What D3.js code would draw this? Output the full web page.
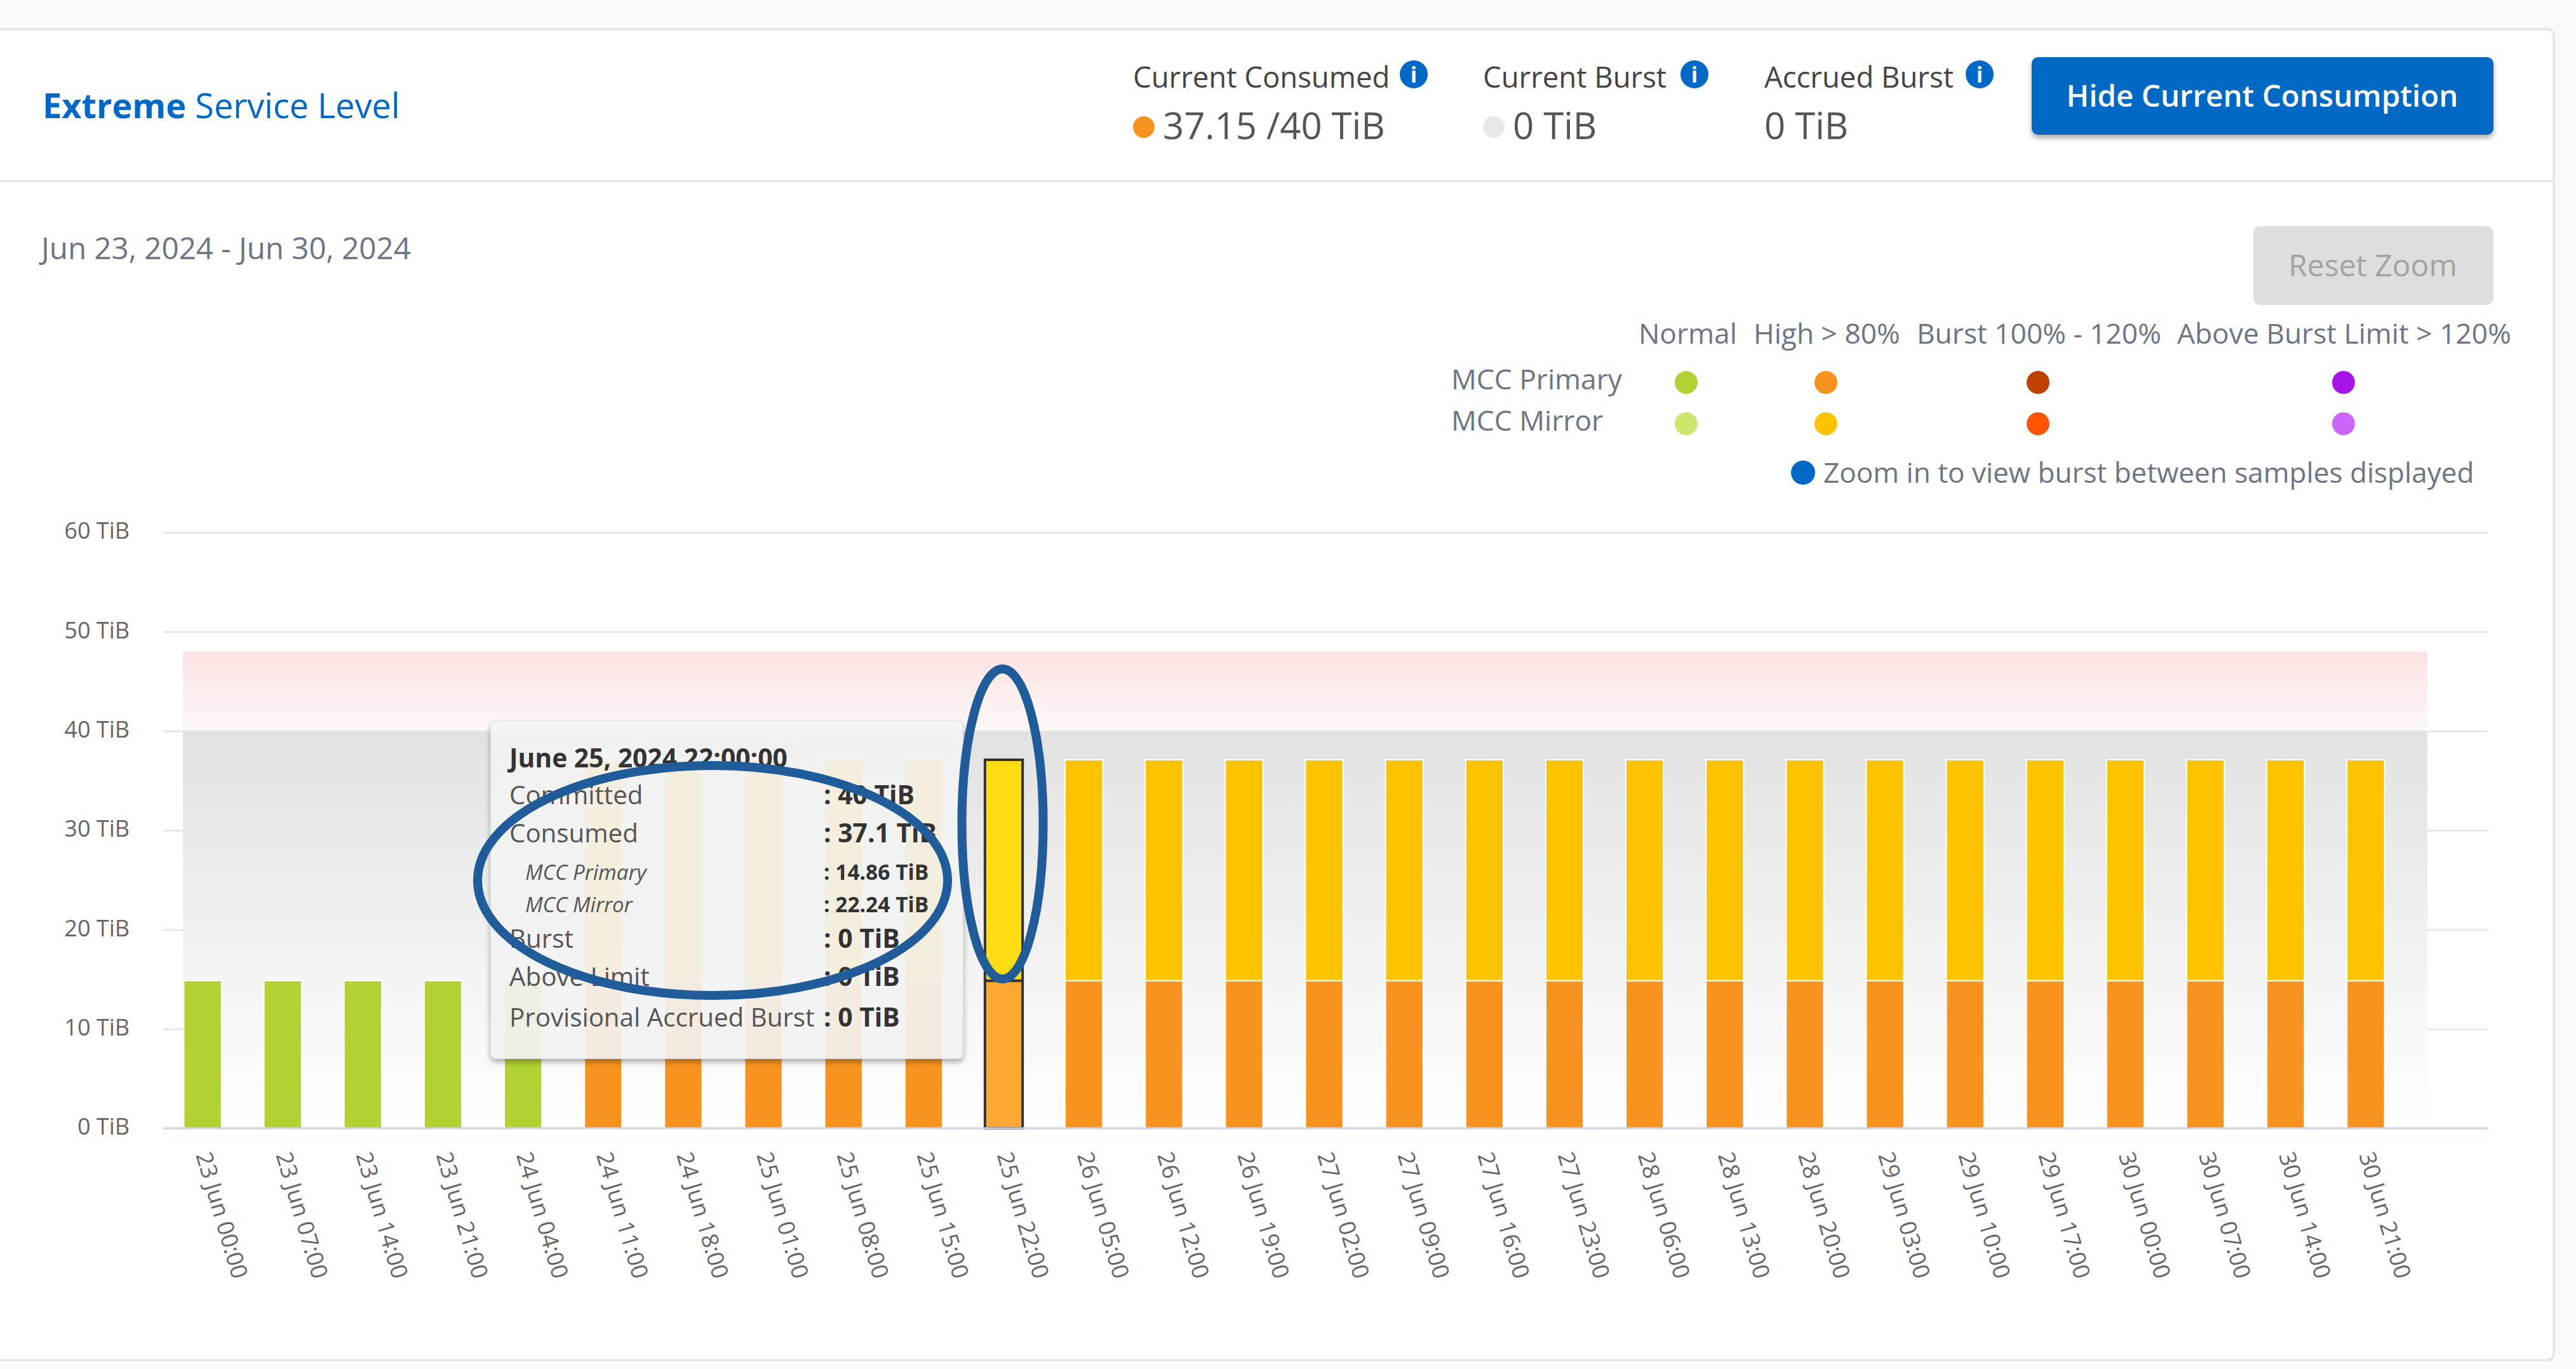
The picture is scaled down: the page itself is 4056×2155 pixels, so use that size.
<!DOCTYPE html>
<html lang="en">
<head>
<meta charset="utf-8">
<title>Extreme Service Level</title>
<script src="https://cdn.jsdelivr.net/npm/d3@7"></script>
<style>
	body { margin: 0; background: #fafafa; }
	svg { display: block; }
	text { font-family: "Open Sans", sans-serif; }
</style>
</head>
<body>
<script>
	var w = 4056;
	var h = 2155;

	// chart data
	var categories = ["23 Jun 00:00", "23 Jun 07:00", "23 Jun 14:00", "23 Jun 21:00", "24 Jun 04:00", "24 Jun 11:00", "24 Jun 18:00",
		"25 Jun 01:00", "25 Jun 08:00", "25 Jun 15:00", "25 Jun 22:00", "26 Jun 05:00", "26 Jun 12:00", "26 Jun 19:00",
		"27 Jun 02:00", "27 Jun 09:00", "27 Jun 16:00", "27 Jun 23:00", "28 Jun 06:00", "28 Jun 13:00", "28 Jun 20:00",
		"29 Jun 03:00", "29 Jun 10:00", "29 Jun 17:00", "30 Jun 00:00", "30 Jun 07:00", "30 Jun 14:00", "30 Jun 21:00"];
	var primaryValues = [14.86, 14.86, 14.86, 14.86, 14.86, 14.86, 14.86, 14.86, 14.86, 14.86, 14.86, 14.86, 14.86, 14.86,
		14.86, 14.86, 14.86, 14.86, 14.86, 14.86, 14.86, 14.86, 14.86, 14.86, 14.86, 14.86, 14.86, 14.86];
	var mirrorValues = [0, 0, 0, 0, 0, 22.24, 22.24, 22.24, 22.24, 22.24, 22.24, 22.24, 22.24, 22.24,
		22.24, 22.24, 22.24, 22.24, 22.24, 22.24, 22.24, 22.24, 22.24, 22.24, 22.24, 22.24, 22.24, 22.24];
	var yTicks = [0, 10, 20, 30, 40, 50, 60];
	var committed = 40;
	var burstLimit = 48;
	var selected = "25 Jun 22:00";

	// legend
	var legendColumns = ["Normal", "High > 80%", "Burst 100% - 120%", "Above Burst Limit > 120%"];
	var legendRows = ["MCC Primary", "MCC Mirror"];
	var primaryColors = ["#b1d232", "#f7931e", "#bf4000", "#a814e8"];
	var mirrorColors = ["#cde66e", "#fec300", "#ff5500", "#cc66ff"];

	// tooltip
	var tooltipLabels = ["Committed", "Consumed", "MCC Primary", "MCC Mirror", "Burst", "Above Limit", "Provisional Accrued Burst"];
	var tooltipValues = ["40 TiB", "37.1 TiB", "14.86 TiB", "22.24 TiB", "0 TiB", "0 TiB", "0 TiB"];
	var tooltipY = [1266, 1326, 1385, 1436, 1492, 1552, 1616];

	var svg = d3.select("body").append("svg")
		.attr("width", w)
		.attr("height", h);

	var defs = svg.append("defs");

	function gradient(id, top, bottom) {
		var g = defs.append("linearGradient").attr("id", id)
			.attr("x1", 0).attr("y1", 0).attr("x2", 0).attr("y2", 1);
		g.append("stop").attr("offset", "0%").attr("stop-color", top);
		g.append("stop").attr("offset", "100%").attr("stop-color", bottom);
	}
	gradient("grayBand", "#e2e2e2", "#ffffff");
	gradient("pinkBand", "#fde2e2", "#fbf8f8");

	var shadow = defs.append("filter").attr("id", "shadow")
		.attr("x", "-5%").attr("y", "-5%").attr("width", "110%").attr("height", "115%");
	shadow.append("feDropShadow").attr("dx", 0).attr("dy", 5).attr("stdDeviation", 4)
		.attr("flood-color", "#000").attr("flood-opacity", 0.35);

	// card
	svg.append("rect")
		.attr("x", -10).attr("y", 46).attr("width", 4031).attr("height", 2095).attr("rx", 10)
		.attr("fill", "#fff").attr("stroke", "#e2e2e2").attr("stroke-width", 3);
	svg.append("line")
		.attr("x1", 0).attr("x2", 4020).attr("y1", 285).attr("y2", 285)
		.attr("stroke", "#e2e2e2").attr("stroke-width", 3);

	// header
	var title = svg.append("text").attr("x", 67).attr("y", 186)
		.attr("font-size", 54).attr("fill", "#0068c6");
	title.append("tspan").attr("font-weight", 700).text("Extreme");
	title.append("tspan").text(" Service Level");

	function stat(x, label, value, dot, iconX) {
		svg.append("text").attr("x", x).attr("y", 138)
			.attr("font-size", 45.5).attr("fill", "#444").text(label);
		svg.append("text").attr("x", dot ? x + 47 : x).attr("y", 219)
			.attr("font-size", 58).attr("fill", "#555").text(value);
		if (dot) {
			svg.append("circle").attr("cx", x + 17).attr("cy", 200).attr("r", 17).attr("fill", dot);
		}
		svg.append("circle").attr("cx", iconX).attr("cy", 117).attr("r", 22).attr("fill", "#0068c6");
		svg.append("text").attr("x", iconX).attr("y", 130).attr("text-anchor", "middle")
			.attr("font-size", 34).attr("font-weight", 700).attr("fill", "#fff").text("i");
	}
	stat(1784, "Current Consumed", "37.15 /40 TiB", "#f7931e", 2226);
	stat(2335, "Current Burst", "0 TiB", "#e8e8e8", 2668);
	stat(2778, "Accrued Burst", "0 TiB", null, 3117);

	svg.append("rect")
		.attr("x", 3199).attr("y", 90).attr("width", 727).attr("height", 122).attr("rx", 10)
		.attr("fill", "#0069c4").attr("filter", "url(#shadow)");
	svg.append("text").attr("x", 3562).attr("y", 168).attr("text-anchor", "middle")
		.attr("font-size", 47.5).attr("font-weight", 600).attr("fill", "#fff").text("Hide Current Consumption");

	svg.append("text").attr("x", 65).attr("y", 408)
		.attr("font-size", 47.5).attr("fill", "#6b7585").text("Jun 23, 2024 - Jun 30, 2024");

	svg.append("rect")
		.attr("x", 3548).attr("y", 356).attr("width", 378).attr("height", 124).attr("rx", 10)
		.attr("fill", "#dedede");
	svg.append("text").attr("x", 3736).attr("y", 435).attr("text-anchor", "middle")
		.attr("font-size", 48).attr("fill", "#a3a3a3").text("Reset Zoom");

	// legend table
	var legendHeadX = [2580, 2761, 3018, 3428];
	var legendDotX = [2655, 2875, 3209, 3690];
	var legendRowY = [602, 667];

	svg.selectAll(".legend-head")
		.data(legendColumns)
		.enter()
		.append("text")
		.attr("class", "legend-head")
		.attr("x", function(d, i) { return legendHeadX[i]; })
		.attr("y", 541)
		.attr("font-size", 44.3)
		.attr("fill", "#6b7585")
		.text(function(d) { return d; });

	svg.selectAll(".legend-row")
		.data(legendRows)
		.enter()
		.append("text")
		.attr("class", "legend-row")
		.attr("x", 2285)
		.attr("y", function(d, i) { return legendRowY[i] + 11; })
		.attr("font-size", 44.3)
		.attr("fill", "#6b7585")
		.text(function(d) { return d; });

	[primaryColors, mirrorColors].forEach(function(colors, r) {
		svg.selectAll(".legend-dot-" + r)
			.data(colors)
			.enter()
			.append("circle")
			.attr("class", "legend-dot-" + r)
			.attr("cx", function(d, i) { return legendDotX[i]; })
			.attr("cy", legendRowY[r])
			.attr("r", 18)
			.attr("fill", function(d) { return d; });
	});

	svg.append("circle").attr("cx", 2839).attr("cy", 744).attr("r", 19).attr("fill", "#0068c6");
	svg.append("text").attr("x", 2871).attr("y", 760)
		.attr("font-size", 44.1).attr("fill", "#6b7585").text("Zoom in to view burst between samples displayed");

	// scales
	var xScale = d3.scaleBand()
		.domain(categories)
		.range([256, 3788])
		.paddingInner(0.53)
		.paddingOuter(0.265);

	var yScale = d3.scaleLinear()
		.domain([0, 60])
		.range([1776, 838]);

	var gridLeft = 257;
	var gridRight = 3917;

	// y axis and grid
	var yAxis = d3.axisLeft(yScale)
		.tickValues(yTicks)
		.tickFormat(function(d) { return d + " TiB"; })
		.tickSize(-(gridRight - gridLeft))
		.tickPadding(53);

	var yG = svg.append("g")
		.attr("transform", "translate(" + gridLeft + ",0)")
		.call(yAxis);
	yG.select(".domain").remove();
	yG.selectAll("line").attr("stroke", "#e6e6e6").attr("stroke-width", 3);
	yG.selectAll("text")
		.attr("font-size", 36)
		.attr("font-family", "Open Sans")
		.attr("fill", "#666")
		.attr("dy", "0.27em");

	// committed and burst bands
	svg.append("rect")
		.attr("x", 288).attr("width", 3822 - 288)
		.attr("y", yScale(burstLimit))
		.attr("height", yScale(committed) - yScale(burstLimit))
		.attr("fill", "url(#pinkBand)");
	svg.append("rect")
		.attr("x", 288).attr("width", 3822 - 288)
		.attr("y", yScale(committed))
		.attr("height", yScale(0) - yScale(committed))
		.attr("fill", "url(#grayBand)");

	// stacked bars
	var rows = categories.map(function(c, i) {
		return { category: c, primary: primaryValues[i], mirror: mirrorValues[i] };
	});
	var stacked = d3.stack().keys(["primary", "mirror"])(rows);

	function barColor(key, d) {
		if (d.data.category === selected) {
			return key === "primary" ? "#ffa733" : "#ffdc14";
		}
		var level = d.data.primary + d.data.mirror > committed * 0.8 ? 1 : 0;
		return key === "primary" ? primaryColors[level] : mirrorColors[level];
	}

	var series = svg.selectAll(".series")
		.data(stacked)
		.enter()
		.append("g")
		.attr("class", "series");

	series.selectAll("rect")
		.data(function(s) {
			return s.map(function(d) { d.key = s.key; return d; });
		})
		.enter()
		.append("rect")
		.attr("x", function(d) { return xScale(d.data.category); })
		.attr("y", function(d) { return yScale(d[1]); })
		.attr("width", xScale.bandwidth())
		.attr("height", function(d) { return yScale(d[0]) - yScale(d[1]); })
		.attr("fill", function(d) { return barColor(d.key, d); })
		.attr("stroke", function(d) { return d.data.category === selected ? "#333" : "#fff"; })
		.attr("stroke-width", function(d) { return d.data.category === selected ? 4 : 2; });

	// x axis
	var xAxis = d3.axisBottom(xScale).tickSize(0);
	var xG = svg.append("g")
		.attr("transform", "translate(0," + yScale(0) + ")")
		.call(xAxis);
	xG.select(".domain").remove();
	xG.selectAll("text")
		.attr("font-size", 36)
		.attr("font-family", "Open Sans")
		.attr("fill", "#666")
		.attr("text-anchor", "start")
		.attr("x", 0).attr("y", 0).attr("dy", 0)
		.attr("transform", "translate(-11,42) rotate(73.5)");
	svg.append("line")
		.attr("x1", gridLeft).attr("x2", gridRight)
		.attr("y1", yScale(0)).attr("y2", yScale(0))
		.attr("stroke", "#ccd6eb").attr("stroke-width", 3);

	// tooltip
	svg.append("rect")
		.attr("x", 773).attr("y", 1135).attr("width", 743).attr("height", 531).attr("rx", 8)
		.attr("fill", "#f7f7f7").attr("fill-opacity", 0.88)
		.attr("stroke", "#e8e8e8").attr("stroke-width", 2)
		.attr("filter", "url(#shadow)");
	svg.append("text").attr("x", 802).attr("y", 1208)
		.attr("font-size", 40.8).attr("font-weight", 700).attr("fill", "#333").text("June 25, 2024 22:00:00");

	var tip = svg.selectAll(".tip")
		.data(tooltipLabels)
		.enter()
		.append("g")
		.attr("class", "tip");
	tip.append("text")
		.attr("x", function(d, i) { return i === 2 || i === 3 ? 827 : 802; })
		.attr("y", function(d, i) { return tooltipY[i]; })
		.attr("font-size", function(d, i) { return i === 2 || i === 3 ? 33 : 40.3; })
		.attr("font-style", function(d, i) { return i === 2 || i === 3 ? "italic" : "normal"; })
		.attr("fill", "#555")
		.text(function(d) { return d; });
	tip.append("text")
		.attr("x", 1297)
		.attr("y", function(d, i) { return tooltipY[i]; })
		.attr("font-size", function(d, i) { return i === 2 || i === 3 ? 33.5 : 40.8; })
		.attr("font-weight", 700)
		.attr("fill", "#333")
		.text(function(d, i) { return ": " + tooltipValues[i]; });

	// hand drawn highlight rings
	svg.append("ellipse")
		.attr("cx", 1122).attr("cy", 1386).attr("rx", 370).attr("ry", 181)
		.attr("fill", "none").attr("stroke", "#1f5c99").attr("stroke-width", 14);
	svg.append("ellipse")
		.attr("cx", xScale(selected) + xScale.bandwidth() / 2 - 2).attr("cy", 1297).attr("rx", 64).attr("ry", 244)
		.attr("fill", "none").attr("stroke", "#1f5c99").attr("stroke-width", 14);
</script>
</body>
</html>
